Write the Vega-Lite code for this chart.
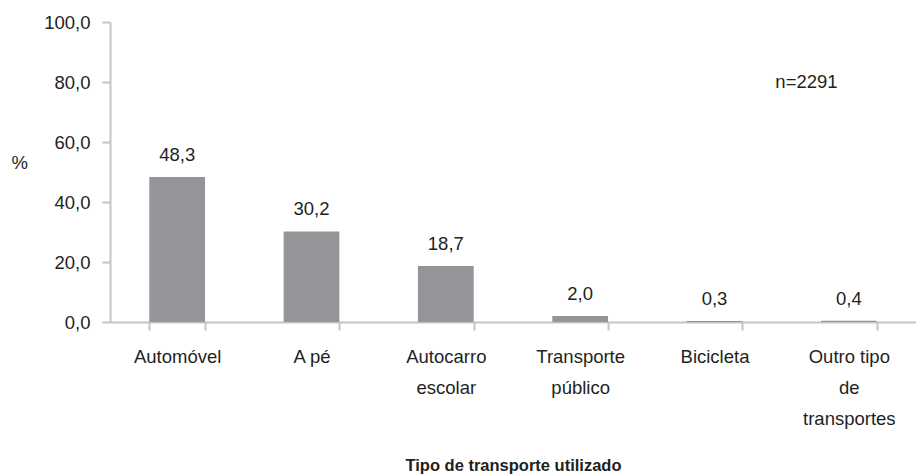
{
  "$schema": "https://vega.github.io/schema/vega-lite/v6.json",
  "width": 806,
  "height": 300,
  "autosize": {"type": "none"},
  "padding": {"left": 110, "top": 22, "right": 0, "bottom": 152},
  "background": "white",
  "config": {
    "view": {"stroke": null},
    "font": "Liberation Sans",
    "locale": {"number": {"decimal": ",", "thousands": ".", "grouping": [3], "currency": ["", " €"]}},
    "axis": {
      "domainColor": "#c4c4c4",
      "tickColor": "#c4c4c4",
      "domainWidth": 2,
      "tickWidth": 2,
      "grid": false,
      "labelFont": "Liberation Sans",
      "labelFontSize": 18.5,
      "labelColor": "#231f20",
      "titleFont": "Liberation Sans",
      "titleColor": "#231f20"
    }
  },
  "data": {
    "values": [
      {"tipo": "Automóvel", "pct": 48.3},
      {"tipo": "A pé", "pct": 30.2},
      {"tipo": "Autocarro escolar", "pct": 18.7},
      {"tipo": "Transporte público", "pct": 2.0},
      {"tipo": "Bicicleta", "pct": 0.3},
      {"tipo": "Outro tipo de transportes", "pct": 0.4}
    ]
  },
  "layer": [
    {
      "mark": {"type": "bar", "color": "#939598"},
      "encoding": {
        "x": {
          "field": "tipo",
          "type": "nominal",
          "sort": null,
          "scale": {
            "domain": ["Automóvel", "A pé", "Autocarro escolar", "Transporte público", "Bicicleta", "Outro tipo de transportes"],
            "paddingInner": 0.585,
            "paddingOuter": 0.2925
          },
          "axis": {
            "title": "Tipo de transporte utilizado",
            "titleFontWeight": "bold",
            "titleFontSize": 16.5,
            "titlePadding": 30,
            "labelAngle": 0,
            "tickSize": 8,
            "tickBand": "extent",
            "labelPadding": 17,
            "labelLineHeight": 31,
            "labelBaseline": "top",
            "labelExpr": "datum.label == 'Autocarro escolar' ? ['Autocarro', 'escolar'] : datum.label == 'Transporte público' ? ['Transporte', 'público'] : datum.label == 'Outro tipo de transportes' ? ['Outro tipo', 'de', 'transportes'] : datum.label"
          }
        },
        "y": {
          "field": "pct",
          "type": "quantitative",
          "scale": {"domain": [0, 100], "nice": false},
          "axis": {
            "title": "%",
            "titleAngle": 0,
            "titleFontWeight": "normal",
            "titleFontSize": 18.5,
            "titleX": -99,
            "titleY": 140,
            "titleAlign": "left",
            "titleBaseline": "middle",
            "values": [0, 20, 40, 60, 80, 100],
            "format": ".1f",
            "tickSize": 8,
            "labelPadding": 12
          }
        }
      }
    },
    {
      "mark": {"type": "text", "baseline": "bottom", "dy": -12, "fontSize": 18.5, "color": "#231f20", "font": "Liberation Sans"},
      "encoding": {
        "x": {"field": "tipo", "type": "nominal", "sort": null},
        "y": {"field": "pct", "type": "quantitative"},
        "text": {"field": "pct", "type": "quantitative", "format": ".1f"}
      }
    },
    {
      "data": {"values": [{"label": "n=2291", "cat": "Outro tipo de transportes", "yv": 80}]},
      "mark": {"type": "text", "baseline": "middle", "align": "center", "fontSize": 18.5, "color": "#231f20", "font": "Liberation Sans"},
      "encoding": {
        "x": {"field": "cat", "type": "nominal", "sort": null, "bandPosition": -0.26},
        "y": {"field": "yv", "type": "quantitative"},
        "text": {"field": "label"}
      }
    }
  ]
}
